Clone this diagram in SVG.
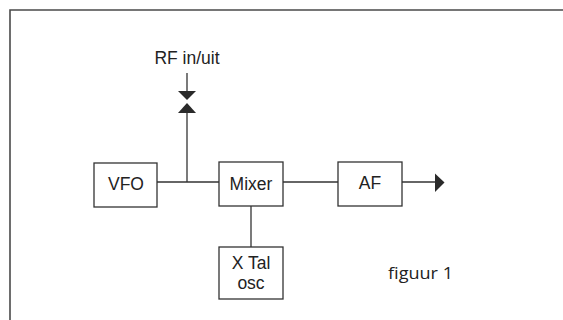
<svg xmlns="http://www.w3.org/2000/svg" width="563" height="320" viewBox="0 0 563 320">
<defs>
<style>
.frame{fill:none;stroke:#4a4a4a;stroke-width:1.6}
.box{fill:#fff;stroke:#333;stroke-width:1.3}
.wire{fill:none;stroke:#333;stroke-width:1.3}
.head{fill:#2a2a2a;stroke:none}
.lbl{font-family:"Liberation Sans",Arial,sans-serif;font-size:17.5px;fill:#222;text-anchor:middle}
.cap{font-family:"Open Sans","Noto Sans",sans-serif;font-size:17px;fill:#222}
</style>
</defs>
<rect width="563" height="320" fill="#fff"/>
<path class="frame" d="M10,330 V10 H570"/>
<g id="connectors">
<line class="wire" x1="157" y1="182" x2="219" y2="182"/>
<line class="wire" x1="187" y1="182" x2="187" y2="111"/>
<polygon class="head" points="178,113 196,113 187,103"/>
<line class="wire" x1="187" y1="73" x2="187" y2="93"/>
<polygon class="head" points="178,91 196,91 187,100"/>
<line class="wire" x1="283" y1="182" x2="338" y2="182"/>
<line class="wire" x1="251" y1="206" x2="251" y2="247"/>
<line class="wire" x1="402" y1="182" x2="436" y2="182"/>
<polygon class="head" points="435,173.5 444.5,182.5 435,192"/>
</g>
<g id="rf"><text class="lbl" x="187" y="64">RF in/uit</text></g>
<g id="vfo"><rect class="box" x="94" y="163" width="63" height="44"/><text class="lbl" x="126" y="189.5">VFO</text></g>
<g id="mixer"><rect class="box" x="219" y="162" width="64" height="44"/><text class="lbl" x="251" y="189.5">Mixer</text></g>
<g id="af"><rect class="box" x="338" y="162" width="64" height="44"/><text class="lbl" x="370" y="188.5">AF</text></g>
<g id="xtal"><rect class="box" x="219" y="247" width="64" height="52"/><text class="lbl" x="251" y="269">X Tal</text><text class="lbl" x="251" y="289">osc</text></g>
<g id="caption"><text class="cap" x="388" y="279" textLength="65" lengthAdjust="spacingAndGlyphs">figuur 1</text></g>
</svg>
